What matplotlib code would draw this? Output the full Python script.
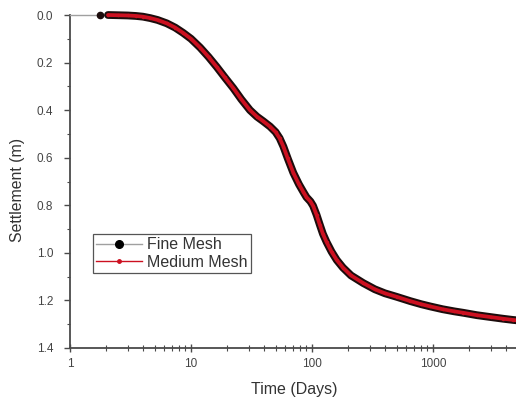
import matplotlib
matplotlib.use("Agg")
import matplotlib.pyplot as plt
from matplotlib.lines import Line2D
from matplotlib.ticker import FixedLocator, FixedFormatter, LogLocator, NullFormatter, MultipleLocator

plt.rcParams['font.family'] = ['Liberation Sans', 'DejaVu Sans']

# Settlement versus time for two mesh densities
time_fine = [1.0, 1.77, 2.06, 2.5, 3.0, 3.5, 4.0, 4.6, 5.3, 6.3, 7.4, 8.6, 10.0, 11.9,
             14.0, 16.3, 19.0, 22.4, 26.0, 30.7, 35.0, 39.6, 45.0, 50.0, 54.0, 58.0,
             63.0, 70.0, 78.0, 85.0, 90.0, 97.0, 102.0, 109.0, 116.0, 123.0, 132.0,
             145.0, 160.0, 180.0, 210.0, 265.0, 330.0, 400.0, 502.0, 650.0, 800.0,
             944.0, 1200.0, 1500.0, 1780.0, 2300.0, 3000.0, 3800.0, 4580.0, 5000.0]
settle_fine = [0.000, 0.000, 0.000, 0.001, 0.002, 0.004, 0.007, 0.013, 0.021, 0.035,
               0.053, 0.075, 0.100, 0.137, 0.177, 0.218, 0.262, 0.308, 0.354, 0.400,
               0.427, 0.447, 0.469, 0.492, 0.518, 0.553, 0.603, 0.663, 0.712, 0.745,
               0.766, 0.784, 0.802, 0.840, 0.882, 0.920, 0.955, 0.995, 1.030, 1.062,
               1.095, 1.127, 1.153, 1.170, 1.185, 1.203, 1.216, 1.225, 1.237, 1.246,
               1.252, 1.262, 1.270, 1.277, 1.282, 1.284]

time_medium = [2.06, 2.5, 3.0, 3.5, 4.0, 4.6, 5.3, 6.3, 7.4, 8.6, 10.0, 11.9,
               14.0, 16.3, 19.0, 22.4, 26.0, 30.7, 35.0, 39.6, 45.0, 50.0, 54.0, 58.0,
               63.0, 70.0, 78.0, 85.0, 90.0, 97.0, 102.0, 109.0, 116.0, 123.0, 132.0,
               145.0, 160.0, 180.0, 210.0, 265.0, 330.0, 400.0, 502.0, 650.0, 800.0,
               944.0, 1200.0, 1500.0, 1780.0, 2300.0, 3000.0, 3800.0, 4580.0, 5000.0]
settle_medium = [0.000, 0.001, 0.002, 0.004, 0.007, 0.013, 0.021, 0.035,
                 0.053, 0.075, 0.100, 0.137, 0.177, 0.218, 0.262, 0.308, 0.354, 0.400,
                 0.427, 0.447, 0.469, 0.492, 0.518, 0.553, 0.603, 0.663, 0.712, 0.745,
                 0.766, 0.784, 0.802, 0.840, 0.882, 0.920, 0.955, 0.995, 1.030, 1.062,
                 1.095, 1.127, 1.153, 1.170, 1.185, 1.203, 1.216, 1.225, 1.237, 1.246,
                 1.252, 1.262, 1.270, 1.277, 1.282, 1.284]

x_ticks = [1, 10, 100, 1000]
x_tick_labels = ["1", "10", "100", "1000"]
y_ticks = [0.0, 0.2, 0.4, 0.6, 0.8, 1.0, 1.2, 1.4]
y_tick_labels = ["0.0", "0.2", "0.4", "0.6", "0.8", "1.0", "1.2", "1.4"]

fig = plt.figure(figsize=(5.16, 4.0), dpi=100)
ax = fig.add_axes([0.1357, 0.13, 0.8674, 0.8325])

fine_color = "#1c0c0c"
gray_line = "#a0a0a0"
red = "#cc1020"
axis_color = "#4a4a4a"

# Fine mesh: sparse leading points joined by a thin gray line, dense markers after
ax.plot(time_fine[:3], settle_fine[:3], color=gray_line, lw=1.0, marker="o",
        ms=4.5, mfc=fine_color, mec=fine_color, markevery=[1], clip_on=False, zorder=3)
ax.plot(time_fine[2:], settle_fine[2:], color=fine_color, lw=5.6,
        solid_capstyle="round", solid_joinstyle="round", clip_on=False, zorder=3)

# Medium mesh: red line on top
ax.plot(time_medium, settle_medium, color=red, lw=2.7, marker="o", ms=1.5,
        mfc=red, mec=red, solid_capstyle="round", solid_joinstyle="round",
        clip_on=False, zorder=4)

ax.set_xscale("log")
ax.set_xlim(1, 5000)
ax.set_ylim(1.4, 0.0)

ax.xaxis.set_major_locator(FixedLocator(x_ticks))
ax.xaxis.set_major_formatter(FixedFormatter(x_tick_labels))
ax.xaxis.set_minor_locator(LogLocator(base=10, subs=[2, 3, 4, 5, 6, 7, 8, 9], numticks=20))
ax.xaxis.set_minor_formatter(NullFormatter())

ax.yaxis.set_major_locator(FixedLocator(y_ticks))
ax.yaxis.set_major_formatter(FixedFormatter(y_tick_labels))
ax.yaxis.set_minor_locator(MultipleLocator(0.1))

for side in ("top", "right"):
    ax.spines[side].set_visible(False)
for side in ("left", "bottom"):
    ax.spines[side].set_color(axis_color)
    ax.spines[side].set_linewidth(1.3)

ax.tick_params(axis="x", which="major", direction="inout", length=6, width=1.0,
               color=axis_color, labelsize=8.5, labelcolor="#444444", pad=4)
ax.tick_params(axis="x", which="minor", direction="inout", length=4, width=0.8,
               color=axis_color)
ax.tick_params(axis="y", which="major", direction="out", length=4, width=1.0,
               color=axis_color, labelsize=8.5, labelcolor="#444444", pad=8)
ax.tick_params(axis="y", which="minor", direction="out", length=2.5, width=0.8,
               color=axis_color)

ax.set_xlabel("Time (Days)", fontsize=11.5, color="#333333", labelpad=9)
ax.set_ylabel("Settlement (m)", fontsize=11.4, color="#333333")
ax.yaxis.set_label_coords(-0.100, 0.474)

handles = [
    Line2D([], [], color=gray_line, lw=1.0, marker="o", ms=5.5, mfc="black", mec="black"),
    Line2D([], [], color=red, lw=1.0, marker="o", ms=2.5, mfc=red, mec=red),
]
leg = ax.legend(handles, ["Fine Mesh", "Medium Mesh"], loc="upper left",
                bbox_to_anchor=(0.051, 0.342), borderaxespad=0, fontsize=11.5,
                frameon=True, fancybox=False, handlelength=2.9, handletextpad=0.3,
                labelspacing=0.15, borderpad=0.2, framealpha=1)
leg.get_frame().set_edgecolor("#555555")
leg.get_frame().set_linewidth(0.9)
for txt in leg.get_texts():
    txt.set_color("#333333")

fig.savefig("out.png", dpi=100)
